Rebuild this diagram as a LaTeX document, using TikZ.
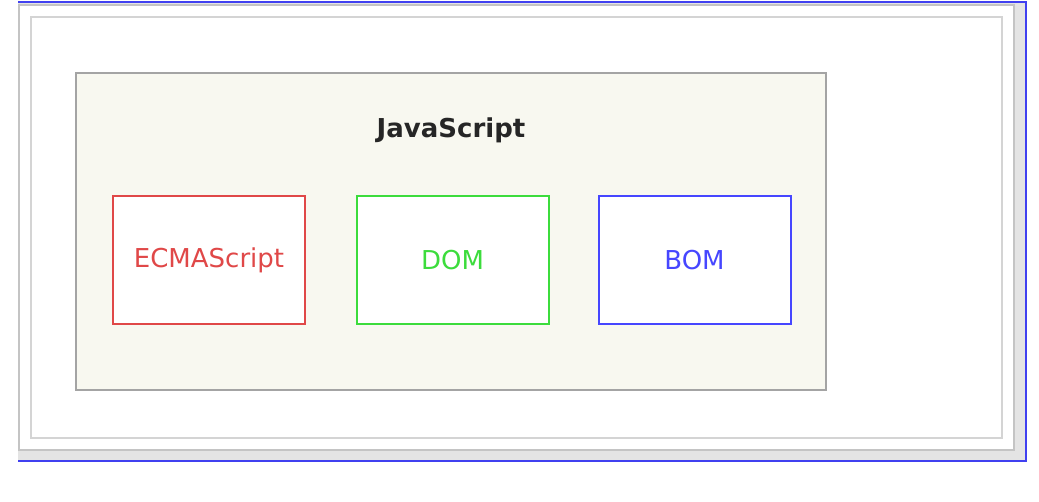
\documentclass[tikz,border=0pt]{standalone}
\usepackage{fontspec}
\setmainfont{DejaVu Sans}
\definecolor{jsfill}{HTML}{F8F8F0}
\definecolor{jsline}{HTML}{A4A4A4}
\definecolor{framegray}{HTML}{C4C4C4}
\definecolor{innergray}{HTML}{D4D4D4}
\definecolor{shadowgray}{HTML}{E4E4E4}
\definecolor{edgeblue}{HTML}{4040F0}
\definecolor{ecmared}{HTML}{E04848}
\definecolor{domgreen}{HTML}{3CDC3C}
\definecolor{bomblue}{HTML}{4646FF}
\tikzset{
  part/.style={draw=#1, line width=2pt, fill=white, minimum width=192pt, minimum height=128pt, inner sep=0pt, text=#1, font=\fontsize{26}{30}\selectfont},
  container/.style={draw=jsline, line width=1.8pt, fill=jsfill, minimum width=750pt, minimum height=317pt, inner sep=0pt},
  title/.style={font=\fontsize{26}{30}\selectfont\bfseries, text=black!85}
}
\begin{document}
\begin{tikzpicture}[x=1pt,y=-1pt]
\useasboundingbox (0,0) rectangle (1039,501);
\fill[white] (0,0) rectangle (1039,501);
% shadow band
\fill[shadowgray] (18,2) rectangle (1025,461);
% outer frame
\draw[framegray, line width=2pt, fill=white] (19,5) rectangle (1014,450);
% inner frame
\draw[innergray, line width=1.6pt] (31,17) rectangle (1002,438);
% blue edge on top, right, bottom
\draw[edgeblue, line width=2pt] (18,2) -- (1026,2) -- (1026,461) -- (18,461);
% container
\node[container] (js) at (451,231.5) {};
\node[title] (jstitle) at (451,130) {JavaScript};
\node[part=ecmared] (ecma) at (209,260) {ECMAScript};
\node[part=domgreen] (dom) at (452.5,260) {DOM};
\node[part=bomblue] (bom) at (694.5,260) {\raisebox{-2pt}{BOM}};
\end{tikzpicture}
\end{document}
